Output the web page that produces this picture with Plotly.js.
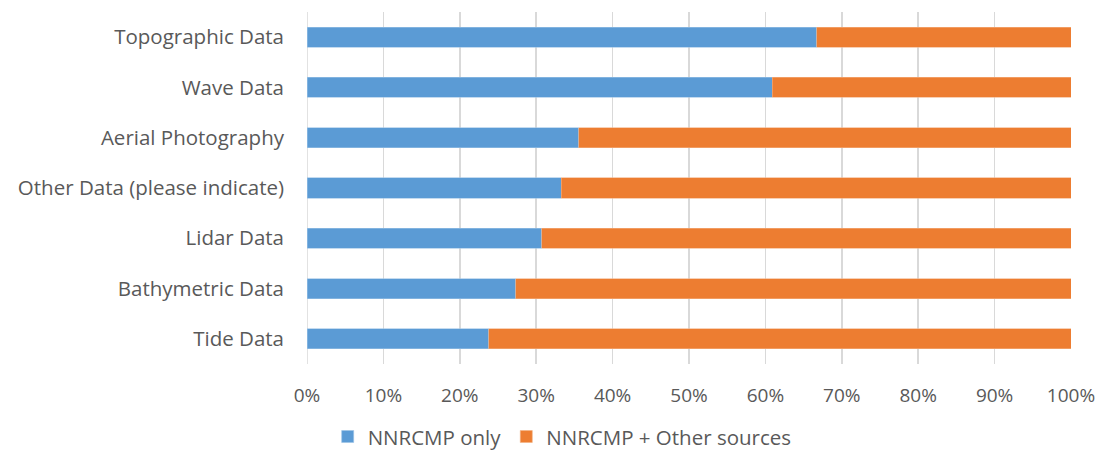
<!DOCTYPE html>
<html>
<head>
<meta charset="utf-8">
<script src="https://cdn.plot.ly/plotly-3.0.1.min.js"></script>
<style>html,body{margin:0;padding:0;background:#fff;}#chart{width:1098px;height:459px;}</style>
</head>
<body>
<div id="chart"></div>
<script>
const categories = ["Topographic Data","Wave Data","Aerial Photography","Other Data (please indicate)","Lidar Data","Bathymetric Data","Tide Data"];
const nnrcmpOnly = [66.7, 60.9, 35.6, 33.3, 30.7, 27.3, 23.8];
const nnrcmpOther = [33.3, 39.1, 64.4, 66.7, 69.3, 72.7, 76.2];
const seriesNames = ["NNRCMP only", "NNRCMP + Other sources"];
const xTickVals = [0,10,20,30,40,50,60,70,80,90,100];
const xTickText = ["0%","10%","20%","30%","40%","50%","60%","70%","80%","90%","100%"];

const font = "'Open Sans', 'Noto Sans', sans-serif";
const data = [
  {type:"bar", orientation:"h", name:seriesNames[0], y:categories, x:nnrcmpOnly,
   marker:{color:"#5b9bd5", line:{color:"#9dc3e6", width:0.6}}, hoverinfo:"x+y"},
  {type:"bar", orientation:"h", name:seriesNames[1], y:categories, x:nnrcmpOther,
   marker:{color:"#ed7d31", line:{color:"#f4b183", width:0.6}}, hoverinfo:"x+y"}
];
const layout = {
  width:1098, height:459,
  margin:{l:307, r:27, t:12, b:95, autoexpand:false},
  barmode:"stack", bargap:0.6,
  paper_bgcolor:"#fff", plot_bgcolor:"#fff",
  font:{family:font, color:"#595959", size:18},
  xaxis:{range:[0,100], tickvals:xTickVals, ticktext:xTickText, showgrid:true,
         gridcolor:"#d9d9d9", gridwidth:1.5, zeroline:false, showline:false,
         ticks:"", ticklabelstandoff:18, tickfont:{size:19, color:"#595959"}, fixedrange:true},
  yaxis:{type:"category", categoryorder:"array", categoryarray:categories, autorange:"reversed",
         showgrid:false, zeroline:false, showline:false, ticks:"", ticklabelstandoff:22,
         tickfont:{size:20.5, color:"#595959"}, fixedrange:true},
  showlegend:true,
  legend:{orientation:"h", xref:"container", yref:"container", x:0.512, xanchor:"center", y:0.005, yanchor:"bottom",
          font:{size:20.5, color:"#595959"}, traceorder:"normal", itemwidth:30},
  shapes:[{type:"line", xref:"x", yref:"paper", x0:0, x1:0, y0:0, y1:1, line:{color:"#d9d9d9", width:1.5}, layer:"below"}]
};
Plotly.newPlot("chart", data, layout, {displayModeBar:false, staticPlot:true});
</script>
</body>
</html>
